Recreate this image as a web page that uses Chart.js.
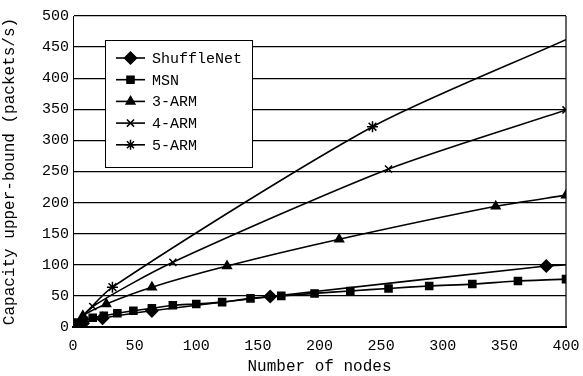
<!DOCTYPE html>
<html>
<head>
    <title>Capacity upper-bound</title>
    <script src="https://cdn.jsdelivr.net/npm/chart.js"></script>
    <style>
        body { margin: 0; background: #fff; }
        #wrap { width: 583px; height: 376px; }
    </style>
</head>
<body>
    <div id="wrap"><canvas id="myChart"></canvas></div>

    <script>
        // values (x = number of nodes)
        var shuffleNodes = [0, 8, 24, 64, 160, 384, 400];
        var shuffleVals  = [0, 6, 14, 26, 49, 98, 100];

        var msnNodes = [0, 4, 9, 16, 25, 36, 49, 64, 81, 100, 121, 144, 169, 196, 225, 256, 289, 324, 361, 400];
        var msnVals  = [0, 7, 10, 15, 18, 22, 26, 30, 35, 37, 40, 46, 50, 54, 58, 62, 66, 69, 74, 77];

        var arm3Nodes = [0, 8, 27, 64, 125, 216, 343, 400];
        var arm3Vals  = [0, 18, 37, 64, 98, 141, 194, 212];

        var arm4Nodes = [0, 16, 81, 256, 400];
        var arm4Vals  = [0, 33, 104, 254, 349];

        var arm5Nodes = [0, 32, 243, 400];
        var arm5Vals  = [0, 64, 322, 462];

        var yTicks = [0, 50, 100, 150, 200, 250, 300, 350, 400, 450, 500];
        var xTicks = [0, 50, 100, 150, 200, 250, 300, 350, 400];

        // series whose last point (at 400) has no marker
        var noEndMarker = ["ShuffleNet", "5-ARM"];

        var FONT = "'Liberation Mono', monospace";

        function pts(xs, ys) {
            return xs.map((x, i) => ({ x: x, y: ys[i] }));
        }

        function series(label, xs, ys, style, r) {
            return {
                label: label,
                data: pts(xs, ys),
                borderColor: "#000",
                backgroundColor: "#000",
                borderWidth: 1.6,
                pointStyle: style,
                pointBorderWidth: 1.5,
                pointRadius: ctx => (noEndMarker.includes(label) && ctx.dataIndex === xs.length - 1) ? 0 : r,
                tension: 0.25,
                fill: false
            };
        }

        var datasets = [
            series("ShuffleNet", shuffleNodes, shuffleVals, "rectRot", 6),
            series("MSN", msnNodes, msnVals, "rect", 5),
            series("3-ARM", arm3Nodes, arm3Vals, "triangle", 5),
            series("4-ARM", arm4Nodes, arm4Vals, "crossRot", 5),
            series("5-ARM", arm5Nodes, arm5Vals, "star", 5.5)
        ];

        // legend box drawn inside the plot, plus the right frame line
        var boxLegend = {
            id: "boxLegend",
            afterDraw(chart) {
                var ctx = chart.ctx;
                var area = chart.chartArea;
                ctx.save();
                ctx.strokeStyle = "#000";
                ctx.lineWidth = 1.2;
                ctx.beginPath();
                ctx.moveTo(area.right, area.top);
                ctx.lineTo(area.right, area.bottom);
                ctx.stroke();

                var bx = 105, by = 40, bw = 147, bh = 127;
                ctx.fillStyle = "#fff";
                ctx.fillRect(bx, by, bw, bh);
                ctx.lineWidth = 1;
                ctx.strokeRect(bx + 0.5, by + 0.5, bw, bh);

                ctx.font = "15px " + FONT;
                ctx.textBaseline = "middle";
                chart.data.datasets.forEach((ds, i) => {
                    var y = 58 + i * 21.7;
                    ctx.strokeStyle = "#000";
                    ctx.fillStyle = "#000";
                    ctx.lineWidth = 1.6;
                    ctx.beginPath();
                    ctx.moveTo(116, y);
                    ctx.lineTo(145, y);
                    ctx.stroke();
                    ctx.lineWidth = 1.5;
                    Chart.helpers.drawPoint(ctx, {
                        pointStyle: ds.pointStyle,
                        radius: i === 0 ? 6 : 5,
                        rotation: 0,
                        borderWidth: 1.5
                    }, 130.5, y);
                    ctx.fillStyle = "#000";
                    ctx.fillText(ds.label, 152, y + 1);
                });
                ctx.restore();
            }
        };

        var ctx = document.getElementById("myChart").getContext("2d");
        new Chart(ctx, {
            type: "line",
            data: { datasets: datasets },
            options: {
                responsive: true,
                maintainAspectRatio: false,
                animation: false,
                layout: { padding: { left: 0, right: 17, top: 16, bottom: 0 } },
                plugins: {
                    legend: { display: false },
                    tooltip: { enabled: false }
                },
                scales: {
                    x: {
                        type: "linear",
                        min: 0,
                        max: 400,
                        afterBuildTicks: s => { s.ticks = xTicks.map(v => ({ value: v })); },
                        grid: { display: false },
                        border: { display: true, color: "#000", width: 2 },
                        ticks: { color: "#000", font: { family: FONT, size: 15 }, padding: 2, maxRotation: 0 },
                        title: {
                            display: true,
                            text: "Number of nodes",
                            color: "#000",
                            font: { family: FONT, size: 16 },
                            padding: { top: 2, bottom: 0 }
                        },
                        afterFit: s => { s.height = 49; }
                    },
                    y: {
                        min: 0,
                        max: 500,
                        afterBuildTicks: s => { s.ticks = yTicks.map(v => ({ value: v })); },
                        grid: { color: "#000", lineWidth: 1.2, drawTicks: false },
                        border: { display: true, color: "#000", width: 1 },
                        ticks: { color: "#000", font: { family: FONT, size: 15 }, padding: 4 },
                        title: {
                            display: true,
                            text: "Capacity upper-bound (packets/s)",
                            color: "#000",
                            font: { family: FONT, size: 16 },
                            padding: { top: 0, bottom: 2 }
                        },
                        afterFit: s => { s.width = 73; }
                    }
                }
            },
            plugins: [boxLegend]
        });
    </script>
</body>
</html>
